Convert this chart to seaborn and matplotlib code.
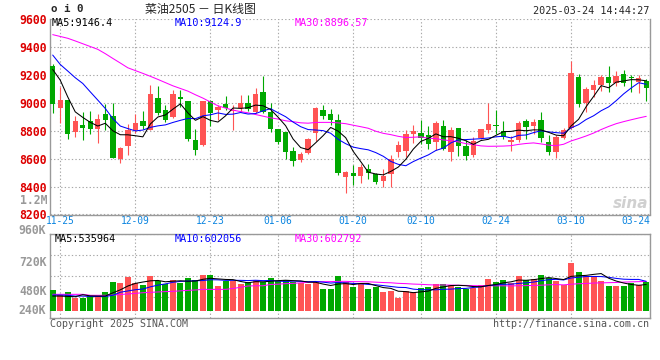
import numpy as np
import pandas as pd
import matplotlib
matplotlib.use("Agg")
import matplotlib.pyplot as plt
import matplotlib.transforms as mtrans
from matplotlib.ticker import FixedLocator, LinearLocator, NullFormatter
import seaborn as sns

# ---------------- data ----------------
holidays = ["2025-01-01", "2025-01-28", "2025-01-29", "2025-01-30", "2025-01-31",
            "2025-02-03", "2025-02-04"]
dates = pd.bdate_range("2024-11-22", "2025-03-24", freq="C", holidays=holidays)
date_labels = [d.strftime("%m-%d") for d in dates]

opens = [9264, 8963, 9018, 8791, 8838, 8867, 8810, 8917, 8905, 8599,
         8690, 8802, 8872, 8807, 9030, 8944, 8898, 9042, 9010, 8731,
         8695, 9010, 8946, 8989, 8939, 8958, 8996, 8934, 9073, 8934,
         8810, 8790, 8652, 8592, 8642, 8782, 8946, 8917, 8879, 8468,
         8497, 8473, 8523, 8492, 8439, 8492, 8647, 8652, 8774, 8781,
         8767, 8719, 8831, 8647, 8822, 8688, 8628, 8748, 8802, 8838,
         8800, 8719, 8731, 8867, 8834, 8874, 8719, 8647, 8748, 8819,
         9185, 8994, 9089, 9125, 9180, 9137, 9202, 9185, 9144, 9154]
highs = [9273, 9113, 9020, 8905, 8934, 8939, 8917, 8987, 8998, 8680,
         8850, 8922, 8939, 9125, 9120, 8982, 9089, 9089, 9012, 8810,
         9015, 9017, 8986, 9049, 8986, 9053, 9053, 9108, 9190, 8994,
         8810, 8790, 8683, 8647, 8748, 8970, 8982, 8951, 8920, 8511,
         8551, 8559, 8563, 8497, 8528, 8623, 8724, 8802, 8838, 8874,
         8831, 8867, 8874, 8826, 8822, 8731, 8755, 8810, 8998, 8946,
         8867, 8762, 8867, 8886, 8886, 8934, 8767, 8771, 8819, 9300,
         9202, 9113, 9161, 9197, 9261, 9226, 9233, 9197, 9197, 9168]
lows = [8929, 8855, 8738, 8752, 8731, 8779, 8712, 8802, 8604, 8571,
        8623, 8786, 8814, 8802, 8910, 8862, 8891, 8970, 8724, 8623,
        8690, 8834, 8874, 8946, 8802, 8934, 8939, 8927, 8929, 8790,
        8707, 8600, 8547, 8575, 8633, 8724, 8881, 8838, 8485, 8353,
        8408, 8425, 8451, 8420, 8396, 8396, 8611, 8611, 8714, 8707,
        8671, 8659, 8659, 8583, 8618, 8590, 8611, 8743, 8786, 8774,
        8738, 8652, 8719, 8738, 8779, 8719, 8623, 8606, 8738, 8814,
        8966, 8934, 9041, 9082, 9077, 9120, 9118, 9077, 9070, 9013]
closes = [8987, 9018, 8776, 8872, 8819, 8810, 8886, 8874, 8604, 8678,
          8807, 8853, 8834, 9065, 8927, 8879, 9061, 9025, 8738, 8664,
          9010, 8927, 8967, 8958, 8946, 8996, 8951, 9061, 8934, 8814,
          8719, 8647, 8583, 8630, 8738, 8965, 8905, 8874, 8497, 8504,
          8475, 8540, 8497, 8432, 8473, 8599, 8695, 8774, 8798, 8748,
          8707, 8855, 8671, 8802, 8690, 8618, 8724, 8810, 8846, 8831,
          8752, 8731, 8855, 8826, 8862, 8748, 8647, 8755, 8802, 9214,
          8987, 9096, 9125, 9185, 9137, 9190, 9137, 9173, 9178, 9101]
volumes_k = [483, 440, 467, 418, 418, 434, 434, 467, 547, 539,
             587, 539, 523, 595, 555, 533, 563, 539, 577, 563,
             603, 603, 515, 555, 555, 531, 547, 563, 547, 579,
             555, 563, 547, 536, 531, 547, 491, 491, 595, 547,
             509, 536, 491, 509, 467, 477, 421, 475, 467, 499,
             509, 531, 531, 523, 509, 493, 497, 523, 574, 547,
             563, 536, 595, 563, 574, 603, 579, 555, 523, 702,
             628, 595, 595, 555, 515, 515, 515, 536, 523, 547]

# moving-average values at the start of the window (history lies before the chart)
ma5_head = [9237, 9161, 9041, 8934]
ma10_head = [9340, 9273, 9226, 9178, 9137, 9077, 9018, 8958, 8886]
ma30_head = [9486, 9473, 9460, 9441, 9421, 9401, 9381, 9350, 9316, 9283,
             9249, 9229, 9209, 9188, 9166, 9143, 9120, 9101, 9082, 9056,
             9032, 9004, 8977, 8961, 8946, 8936, 8927, 8915, 8903]
vma5_head = [434, 434, 431, 429]
vma10_head = [442, 442, 440, 434, 434, 431, 431, 431, 440]
vma30_head = [448, 448, 448, 448, 448, 440, 440, 440, 442, 447,
              451, 456, 461, 464, 467, 470, 472, 476, 480, 483,
              488, 488, 488, 488, 495, 505, 515, 517, 517]

tick_dates = ["11-25", "12-09", "12-23", "01-06", "01-20", "02-10", "02-24", "03-10", "03-24"]
price_ticks = [8200, 8400, 8600, 8800, 9000, 9200, 9400, 9600]

title = "菜油2505 － 日K线图"
stamp = "2025-03-24 14:44:27"
ma_texts = ["MA5:9146.4", "MA10:9124.9", "MA30:8896.57"]
vma_texts = ["MA5:535964", "MA10:602056", "MA30:602792"]

# ---------------- derived ----------------
df = pd.DataFrame({"open": opens, "high": highs, "low": lows, "close": closes,
                   "vol": np.array(volumes_k) * 1000.0})
df["x"] = np.arange(len(df))


def ma(series, n, head):
    m = series.rolling(n).mean()
    m.iloc[:len(head)] = head
    return m


df["ma5"] = ma(df["close"], 5, ma5_head)
df["ma10"] = ma(df["close"], 10, ma10_head)
df["ma30"] = ma(df["close"], 30, ma30_head)
df["vma5"] = ma(df["vol"], 5, np.array(vma5_head) * 1000.0)
df["vma10"] = ma(df["vol"], 10, np.array(vma10_head) * 1000.0)
df["vma30"] = ma(df["vol"], 30, np.array(vma30_head) * 1000.0)

RED = "#ff5454"
GREEN = "#00a800"
up = df["close"] >= df["open"]
cols = np.where(up, RED, GREEN)

# ---------------- figure ----------------
sns.set_theme(style="white")
plt.rcParams["font.family"] = ["DejaVu Sans Mono", "Noto Sans CJK SC"]
plt.rcParams["axes.linewidth"] = 1.0

W, H = 660, 360
fig = plt.figure(figsize=(W / 100, H / 100), dpi=100)
fig.patch.set_facecolor("white")


def rect(x0, y0, x1, y1):
    return [x0 / W, 1 - y1 / H, (x1 - x0) / W, (y1 - y0) / H]


ax = fig.add_axes(rect(50, 18.7, 650, 214.5))
axv = fig.add_axes(rect(50, 234.3, 650, 317.7), sharex=ax)

XMIN, XMAX = -0.36, 79.5
ax.set_xlim(XMIN, XMAX)
ax.set_ylim(price_ticks[0], price_ticks[-1])

GRID = dict(color="#a8a8a8", linestyle=(0, (1.2, 2.0)), linewidth=0.8)
SPINE = "#999999"
LW = 0.75
LBL = 8.3

tick_pos = [date_labels.index(t) for t in tick_dates]
tick_pos[-1] = XMAX

# candles
ax.vlines(df["x"], df["low"], df["high"], colors=cols, linewidth=0.8, zorder=3)
body_bot = np.minimum(df["open"], df["close"])
body_h = np.maximum((df["close"] - df["open"]).abs(), 6)
ax.bar(df["x"], body_h, bottom=body_bot, width=0.72, color=cols, linewidth=0, zorder=4)

sns.lineplot(data=df, x="x", y="ma30", ax=ax, color="#ff00ff", linewidth=LW, zorder=5)
sns.lineplot(data=df, x="x", y="ma10", ax=ax, color="#0000ff", linewidth=LW, zorder=6)
sns.lineplot(data=df, x="x", y="ma5", ax=ax, color="#000000", linewidth=LW, zorder=7)

ax.set_yticks(price_ticks)
ax.set_yticklabels([str(p) for p in price_ticks], color="#dd0000", fontsize=LBL,
                   fontweight="bold")
ax.set_xticks(tick_pos)
ax.set_xticklabels(tick_dates, color="#0a84e0", fontsize=6.9)
xl = ax.get_xticklabels()
xl[-1].set_horizontalalignment("right")
ax.tick_params(axis="both", length=0)
ax.tick_params(axis="x", pad=1.2)
ax.tick_params(axis="y", pad=2.5)
ax.grid(True, **GRID)
ax.set_axisbelow(True)
ax.set_xlabel("")
ax.set_ylabel("")
for s in ["left", "right", "bottom"]:
    ax.spines[s].set_color(SPINE)
ax.spines["top"].set_visible(False)

# volume
VBASE = 316e3
axv.bar(df["x"], df["vol"] - VBASE, bottom=VBASE, width=0.8, color=cols, linewidth=0, zorder=3)
sns.lineplot(data=df, x="x", y="vma30", ax=axv, color="#ff00ff", linewidth=LW, zorder=5)
sns.lineplot(data=df, x="x", y="vma10", ax=axv, color="#0000ff", linewidth=LW, zorder=6)
sns.lineplot(data=df, x="x", y="vma5", ax=axv, color="#000000", linewidth=LW, zorder=7)
axv.set_ylim(260e3, 931e3)
axv.yaxis.set_major_locator(FixedLocator([480e3, 720e3]))
axv.set_yticklabels(["480K", "720K"], color="#999999", fontsize=LBL, fontweight="bold")
axv.yaxis.set_minor_locator(LinearLocator(5))
axv.yaxis.set_minor_formatter(NullFormatter())
axv.tick_params(axis="both", which="both", length=0)
axv.tick_params(axis="y", pad=2.5)
axv.tick_params(axis="x", labelbottom=False)
axv.grid(False)
axv.grid(True, which="minor", axis="y", **GRID)
axv.grid(True, which="major", axis="x", **GRID)
axv.set_axisbelow(True)
axv.set_xlabel("")
axv.set_ylabel("")
for s in axv.spines.values():
    s.set_color(SPINE)

blend_v = mtrans.blended_transform_factory(axv.transAxes, axv.transData)
axv.text(-0.0067, 960e3, "960K", transform=blend_v, ha="right", va="center",
         color="#999999", fontsize=LBL, fontweight="bold", clip_on=False)
axv.text(-0.0067, 0.089, "240K", transform=axv.transAxes, ha="right", va="center",
         color="#999999", fontsize=LBL, fontweight="bold", clip_on=False)


# ---------------- texts ----------------
def ftext(x, y, s, **kw):
    fig.text(x / W, 1 - y / H, s, **kw)


ftext(51, 9.5, "o i 0", fontsize=7.8, fontweight="bold", va="center", ha="left")
ftext(200, 9, title, fontsize=8.6, va="center", ha="center",
      family=["Noto Sans CJK SC", "DejaVu Sans"])
ftext(649, 10.5, stamp, fontsize=7.3, va="center", ha="right")
ftext(52, 23.5, ma_texts[0], fontsize=7.3, va="center", ha="left", color="black")
ftext(175, 23.5, ma_texts[1], fontsize=7.3, va="center", ha="left", color="#0000ff")
ftext(295, 23.5, ma_texts[2], fontsize=7.3, va="center", ha="left", color="#ff00ff")
ftext(55, 238.5, vma_texts[0], fontsize=7.3, va="center", ha="left", color="black")
ftext(175, 238.5, vma_texts[1], fontsize=7.3, va="center", ha="left", color="#0000ff")
ftext(295, 238.5, vma_texts[2], fontsize=7.3, va="center", ha="left", color="#ff00ff")
ftext(47.3, 200.5, "1.2M", fontsize=LBL, fontweight="bold", va="center", ha="right",
      color="#999999")
ftext(50, 324, "Copyright 2025 SINA.COM", fontsize=7.2, va="center", ha="left", color="#555555")
ftext(649, 324, "http://finance.sina.com.cn", fontsize=7.2, va="center", ha="right", color="#555555")
ftext(648, 204, "sina", fontsize=11, va="center", ha="right", color="#d0d0d0",
      fontweight="bold", style="italic", family=["DejaVu Sans"])

fig.savefig("out.png", dpi=100, facecolor="white")
